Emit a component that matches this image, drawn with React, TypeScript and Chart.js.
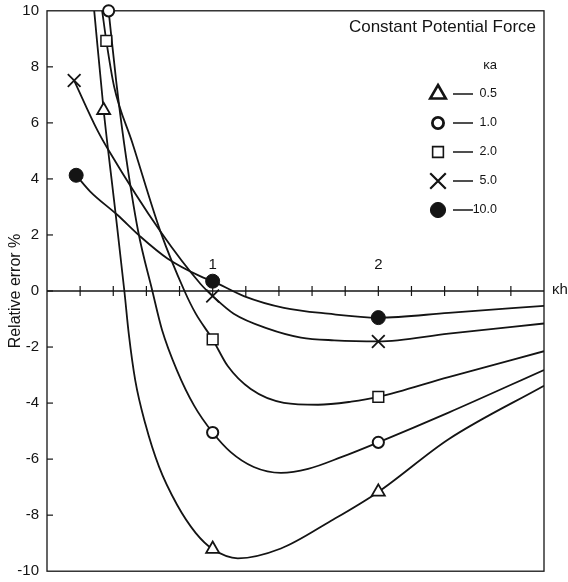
import React, { useEffect, useRef } from 'react';
import { Chart, registerables } from 'chart.js';

Chart.register(...registerables);

const FONT = '"Liberation Sans", Arial, Helvetica, sans-serif';
const INK = '#141414';

// κa values (legend labels)
const kappaLabels = ['0.5', '1.0', '2.0', '5.0', '10.0'];

// Axis ticks
const yTickValues = [-10, -8, -6, -4, -2, 0, 2, 4, 6, 8, 10];
const xMinorTicks = [0.2, 0.4, 0.6, 0.8, 1.0, 1.2, 1.4, 1.6, 1.8, 2.0, 2.2, 2.4, 2.6, 2.8];
const xLabelTicks = [1, 2];

// Marker points (κh, relative error %)
const markers05 = [[0.342, 6.45], [1.0, -9.21], [2.0, -7.17]];
const markers10 = [[0.372, 10.0], [1.0, -5.05], [2.0, -5.40]];
const markers20 = [[0.358, 8.93], [1.0, -1.73], [2.0, -3.78]];
const markers50 = [[0.164, 7.51], [1.0, -0.18], [2.0, -1.80]];
const markers100 = [[0.176, 4.13], [1.0, 0.35], [2.0, -0.95]];

// Curve points (markers are merged in)
const curve05 = [[0.285, 10.0], [0.406, 3.17], [0.467, 0.0], [0.494, -1.55], [0.533, -3.2], [0.594, -4.75], [0.676, -6.27], [0.785, -7.63], [0.897, -8.63], [1.152, -9.54], [1.412, -9.19], [1.715, -8.2], [2.424, -5.29], [3.0, -3.38]];
const curve10 = [[0.418, 7.47], [0.465, 5.29], [0.55, 2.14], [0.636, 0.0], [0.694, -1.38], [0.785, -2.84], [0.888, -4.09], [1.109, -5.75], [1.248, -6.28], [1.412, -6.49], [1.576, -6.35], [1.776, -5.93], [2.424, -4.34], [3.0, -2.82]];
const curve20 = [[0.333, 10.0], [0.405, 7.30], [0.515, 5.29], [0.685, 2.12], [0.830, 0.0], [0.897, -0.80], [1.091, -2.68], [1.230, -3.50], [1.430, -3.99], [1.636, -4.06], [1.836, -3.95], [2.424, -3.07], [3.0, -2.15]];
const curve50 = [[0.303, 5.75], [0.370, 5.04], [0.685, 2.12], [0.927, 0.25], [1.127, -0.81], [1.333, -1.34], [1.533, -1.66], [1.733, -1.76], [2.424, -1.52], [3.0, -1.16]];
const curve100 = [[0.261, 3.55], [0.424, 2.72], [0.564, 1.94], [0.727, 1.16], [0.927, 0.52], [1.188, -0.18], [1.430, -0.60], [1.697, -0.81], [2.424, -0.78], [3.0, -0.53]];

type P = { x: number; y: number };
const toPts = (a: number[][]): P[] => a.map(([x, y]) => ({ x, y }));
const merge = (c: number[][], m: number[][]): P[] => toPts([...c, ...m]).sort((a, b) => a.x - b.x);

const seriesStyles = [
  { style: 'triangle', r: 7.5, bw: 1.8, fill: '#ffffff', lr: 9, lbw: 2.6 },
  { style: 'circle', r: 5.6, bw: 2.0, fill: '#ffffff', lr: 5.6, lbw: 2.8 },
  { style: 'rect', r: 7.6, bw: 1.5, fill: '#ffffff', lr: 7.6, lbw: 1.6 },
  { style: 'crossRot', r: 9, bw: 1.8, fill: '#ffffff', lr: 11, lbw: 2.2 },
  { style: 'circle', r: 7, bw: 1, fill: INK, lr: 7.6, lbw: 1 },
];
const seriesMarkers = [markers05, markers10, markers20, markers50, markers100];
const seriesCurves = [curve05, curve10, curve20, curve50, curve100];

function drawMarker(ctx: CanvasRenderingContext2D, style: string, x: number, y: number, r: number, lw: number, fill: string) {
  ctx.save();
  ctx.lineWidth = lw;
  ctx.strokeStyle = INK;
  ctx.fillStyle = fill;
  ctx.beginPath();
  if (style === 'triangle') {
    ctx.moveTo(x, y - r);
    ctx.lineTo(x + 0.866 * r, y + 0.5 * r);
    ctx.lineTo(x - 0.866 * r, y + 0.5 * r);
    ctx.closePath();
    ctx.fill();
    ctx.stroke();
  } else if (style === 'circle') {
    ctx.arc(x, y, r, 0, Math.PI * 2);
    ctx.fill();
    ctx.stroke();
  } else if (style === 'rect') {
    const s = r * Math.SQRT1_2;
    ctx.rect(x - s, y - s, 2 * s, 2 * s);
    ctx.fill();
    ctx.stroke();
  } else if (style === 'crossRot') {
    const s = r * Math.SQRT1_2;
    ctx.moveTo(x - s, y - s);
    ctx.lineTo(x + s, y + s);
    ctx.moveTo(x - s, y + s);
    ctx.lineTo(x + s, y - s);
    ctx.stroke();
  }
  ctx.restore();
}

const framePlugin = {
  id: 'framePlugin',
  beforeDatasetsDraw(chart: any) {
    const { ctx, chartArea: a, scales } = chart;
    const xs = scales.x;
    const ys = scales.y;
    ctx.save();
    ctx.strokeStyle = INK;
    ctx.lineWidth = 1.3;
    ctx.strokeRect(a.left, a.top, a.right - a.left, a.bottom - a.top);
    // y inward ticks
    ctx.lineWidth = 1.2;
    yTickValues.forEach((v) => {
      if (v === -10 || v === 10) return;
      const py = ys.getPixelForValue(v);
      ctx.beginPath();
      ctx.moveTo(a.left, py);
      ctx.lineTo(a.left + 6, py);
      ctx.stroke();
    });
    // zero axis with crossing ticks
    const y0 = ys.getPixelForValue(0);
    ctx.lineWidth = 1.5;
    ctx.beginPath();
    ctx.moveTo(a.left, y0);
    ctx.lineTo(a.right, y0);
    ctx.stroke();
    ctx.lineWidth = 1.2;
    xMinorTicks.forEach((v) => {
      const px = xs.getPixelForValue(v);
      ctx.beginPath();
      ctx.moveTo(px, y0 - 5);
      ctx.lineTo(px, y0 + 5);
      ctx.stroke();
    });
    ctx.fillStyle = INK;
    ctx.font = `15px ${FONT}`;
    ctx.textAlign = 'center';
    ctx.textBaseline = 'alphabetic';
    xLabelTicks.forEach((v) => {
      ctx.fillText(String(v), xs.getPixelForValue(v), y0 - 22);
    });
    ctx.textAlign = 'left';
    ctx.fillText('κh', a.right + 8, y0 + 3);
    ctx.restore();
  },
  afterDraw(chart: any) {
    const { ctx } = chart;
    ctx.save();
    ctx.fillStyle = INK;
    ctx.textAlign = 'right';
    ctx.textBaseline = 'alphabetic';
    ctx.font = `17px ${FONT}`;
    ctx.fillText('Constant Potential Force', 536, 32);
    ctx.font = `13px ${FONT}`;
    ctx.fillText('κa', 497, 68.5);
    ctx.font = `12.5px ${FONT}`;
    ctx.textBaseline = 'middle';
    kappaLabels.forEach((label, i) => {
      const y = 94 + i * 29;
      const st = seriesStyles[i];
      drawMarker(ctx, st.style, 438, y, st.lr, st.lbw, st.fill);
      ctx.strokeStyle = INK;
      ctx.lineWidth = 1.5;
      ctx.beginPath();
      ctx.moveTo(453, y);
      ctx.lineTo(473, y);
      ctx.stroke();
      ctx.fillText(label, 497, y);
    });
    ctx.restore();
  },
};

export default function App() {
  const ref = useRef<HTMLCanvasElement | null>(null);

  useEffect(() => {
    if (!ref.current) return;
    const datasets: any[] = [];
    kappaLabels.forEach((label, i) => {
      const st = seriesStyles[i];
      datasets.push({
        label: `curve ${label}`,
        data: merge(seriesCurves[i], seriesMarkers[i]),
        borderColor: INK,
        borderWidth: 1.8,
        pointRadius: 0,
        fill: false,
        cubicInterpolationMode: 'monotone',
        order: 2,
      });
      datasets.push({
        label: `κa ${label}`,
        data: toPts(seriesMarkers[i]),
        showLine: false,
        pointStyle: st.style,
        pointRadius: st.r,
        pointBorderWidth: st.bw,
        pointBackgroundColor: st.fill,
        pointBorderColor: INK,
        clip: false,
        order: 1,
      });
    });

    const chart = new Chart(ref.current, {
      type: 'line',
      data: { datasets },
      options: {
        animation: false,
        responsive: false,
        devicePixelRatio: 1,
        layout: { padding: { left: 0, right: 24, top: 10, bottom: 9 } },
        plugins: { legend: { display: false }, tooltip: { enabled: false } },
        scales: {
          x: { type: 'linear', min: 0, max: 3, display: false },
          y: {
            type: 'linear',
            min: -10,
            max: 10,
            afterBuildTicks: (scale: any) => {
              scale.ticks = yTickValues.map((v) => ({ value: v }));
            },
            afterFit: (scale: any) => {
              scale.width = 47;
              scale.paddingTop = 0;
              scale.paddingBottom = 0;
            },
            grid: { display: false, drawTicks: false },
            border: { display: false },
            ticks: {
              padding: 8,
              color: INK,
              font: { family: FONT, size: 15 },
              callback: (v: any) => String(v),
            },
            title: {
              display: true,
              text: 'Relative error %',
              color: INK,
              font: { family: FONT, size: 16 },
              padding: { top: 5.5, bottom: 0 },
            },
          },
        },
      },
      plugins: [framePlugin],
    } as any);
    return () => chart.destroy();
  }, []);

  return (
    <div style={{ position: 'fixed', left: 0, top: 0, width: 568, height: 582, background: '#fff' }}>
      <canvas ref={ref} width={568} height={582} style={{ display: 'block' }} />
    </div>
  );
}
